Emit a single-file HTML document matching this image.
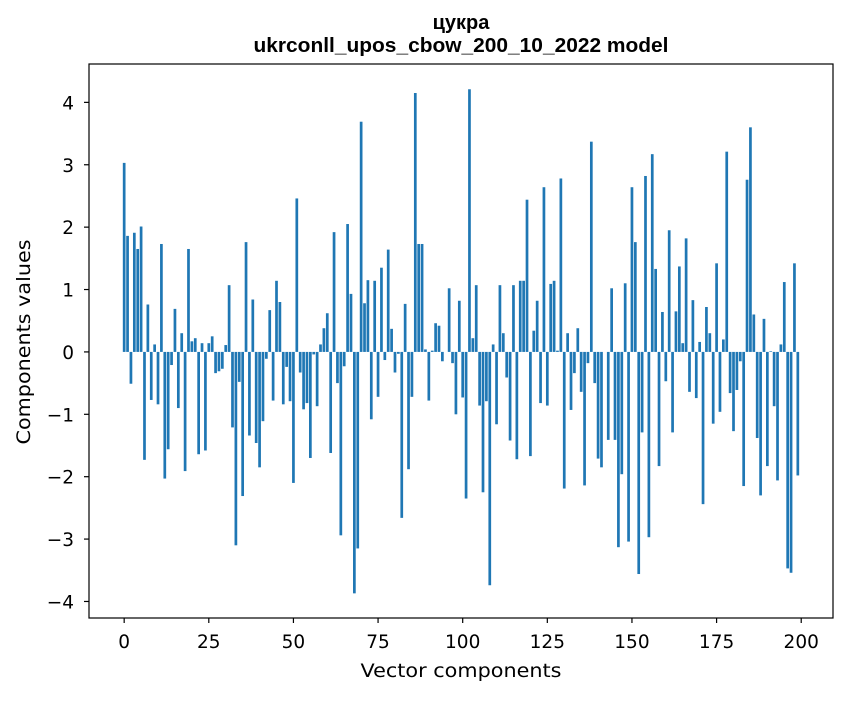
<!DOCTYPE html>
<html><head><meta charset="utf-8"><style>
body{margin:0;background:#fff;}
svg text{font-family:"DejaVu Sans","Liberation Sans",sans-serif;}
svg text.title{font-family:"Liberation Sans","DejaVu Sans",sans-serif;}
</style></head><body>
<svg id="chart" width="847" height="696" xmlns="http://www.w3.org/2000/svg">
<rect width="847" height="696" fill="#fff"/>
<text class="title" x="461" y="29" text-anchor="middle" font-size="20" font-weight="bold">цукра</text>
<text class="title" x="461" y="52" text-anchor="middle" font-size="20" font-weight="bold" textLength="415" lengthAdjust="spacingAndGlyphs">ukrconll_upos_cbow_200_10_2022 model</text>
<g id="bars"></g>
<g id="axes"></g>
<text x="461" y="677" text-anchor="middle" font-size="19" textLength="201" lengthAdjust="spacingAndGlyphs">Vector components</text>
<text transform="translate(30,342) rotate(-90)" text-anchor="middle" font-size="19" textLength="205" lengthAdjust="spacingAndGlyphs">Components values</text>
</svg>
<script>
const values = [3.03,1.86,-0.51,1.91,1.65,2.01,-1.73,0.76,-0.77,0.12,-0.84,1.73,-2.03,-1.56,-0.21,0.69,-0.9,0.3,-1.91,1.65,
0.17,0.22,-1.64,0.14,-1.58,0.14,0.25,-0.34,-0.31,-0.27,0.11,1.07,-1.21,-3.1,-0.48,-2.31,1.76,-1.34,0.84,-1.46,
-1.85,-1.11,-0.11,0.67,-0.78,1.14,0.8,-0.84,-0.24,-0.79,-2.1,2.46,-0.33,-0.92,-0.82,-1.7,-0.04,-0.87,0.12,0.38,
0.62,-1.62,1.92,-0.5,-2.94,-0.23,2.05,0.93,-3.87,-3.15,3.69,0.78,1.15,-1.08,1.14,-0.72,1.35,-0.13,1.64,0.37,
-0.33,-0.03,-2.66,0.77,-1.88,-0.72,4.15,1.73,1.73,0.04,-0.78,0.02,0.46,0.42,-0.15,0.0,1.02,-0.18,-1.0,0.82,
-0.73,-2.35,4.21,0.22,1.07,-0.86,-2.25,-0.79,-3.74,0.12,-1.16,1.07,0.3,-0.41,-1.42,1.07,-1.72,1.14,1.14,2.44,
-1.67,0.34,0.82,-0.82,2.64,-0.86,1.09,1.14,0.02,2.78,-2.19,0.3,-0.93,-0.34,0.38,-0.64,-2.14,-0.18,3.37,-0.5,
-1.71,-1.85,0.0,-1.41,1.02,-1.41,-3.13,-1.96,1.1,-3.04,2.64,1.76,-3.56,-1.29,2.82,-2.97,3.17,1.33,-1.83,0.64,
-0.47,1.95,-1.29,0.65,1.37,0.14,1.82,-0.64,0.83,-0.74,0.16,-2.44,0.72,0.3,-1.15,1.42,-0.96,0.2,3.21,-0.66,
-1.27,-0.61,-0.15,-2.15,2.76,3.6,0.6,-1.38,-2.3,0.53,-1.83,0.01,-0.87,-2.06,0.12,1.12,-3.47,-3.54,1.42,-1.98];
const xTicks = [0,25,50,75,100,125,150,175,200];
const yTicks = [-4,-3,-2,-1,0,1,2,3,4];
const yTickLabels = ["\u22124","\u22123","\u22122","\u22121","0","1","2","3","4"];

const L=89,R=833,T=64,B=618;
const xMin=-10.39,xMax=209.39,yMin=-4.265,yMax=4.615;
const xs=v=>L+(v-xMin)/(xMax-xMin)*(R-L);
const ys=v=>B-(v-yMin)/(yMax-yMin)*(B-T);
const NS="http://www.w3.org/2000/svg";
const bars=document.getElementById('bars');
values.forEach((v,i)=>{
  const r=document.createElementNS(NS,'rect');
  const x0=xs(i-0.4),x1=xs(i+0.4);
  const y0=ys(Math.max(v,0)),y1=ys(Math.min(v,0));
  r.setAttribute('x',x0);r.setAttribute('width',x1-x0);
  r.setAttribute('y',y0);r.setAttribute('height',Math.max(y1-y0,0));
  r.setAttribute('fill','#1f77b4');
  
  
  bars.appendChild(r);
});
const axes=document.getElementById('axes');
const frame=document.createElementNS(NS,'rect');
frame.setAttribute('x',L);frame.setAttribute('y',T);frame.setAttribute('width',R-L);frame.setAttribute('height',B-T);
frame.setAttribute('fill','none');frame.setAttribute('stroke','#000');frame.setAttribute('stroke-width','1.2');


axes.appendChild(frame);
xTicks.forEach(t=>{
  const x=xs(t);
  const l=document.createElementNS(NS,'line');
  l.setAttribute('x1',x);l.setAttribute('x2',x);l.setAttribute('y1',B);l.setAttribute('y2',B+5);l.setAttribute('stroke','#000');l.setAttribute('stroke-width','1.2');
  
  
  axes.appendChild(l);
  const tx=document.createElementNS(NS,'text');
  tx.setAttribute('x',x);tx.setAttribute('y',648);tx.setAttribute('text-anchor','middle');tx.setAttribute('font-size','18.5');
  tx.textContent=t;
  
  
  axes.appendChild(tx);
});
yTicks.forEach((t,i)=>{
  const y=ys(t);
  const l=document.createElementNS(NS,'line');
  l.setAttribute('x1',L-5);l.setAttribute('x2',L);l.setAttribute('y1',y);l.setAttribute('y2',y);l.setAttribute('stroke','#000');l.setAttribute('stroke-width','1.2');
  
  
  axes.appendChild(l);
  const tx=document.createElementNS(NS,'text');
  tx.setAttribute('x',74);tx.setAttribute('y',y+7);tx.setAttribute('text-anchor','end');tx.setAttribute('font-size','18.5');
  tx.textContent=yTickLabels[i];
  
  
  axes.appendChild(tx);
});
</script>
</body></html>
